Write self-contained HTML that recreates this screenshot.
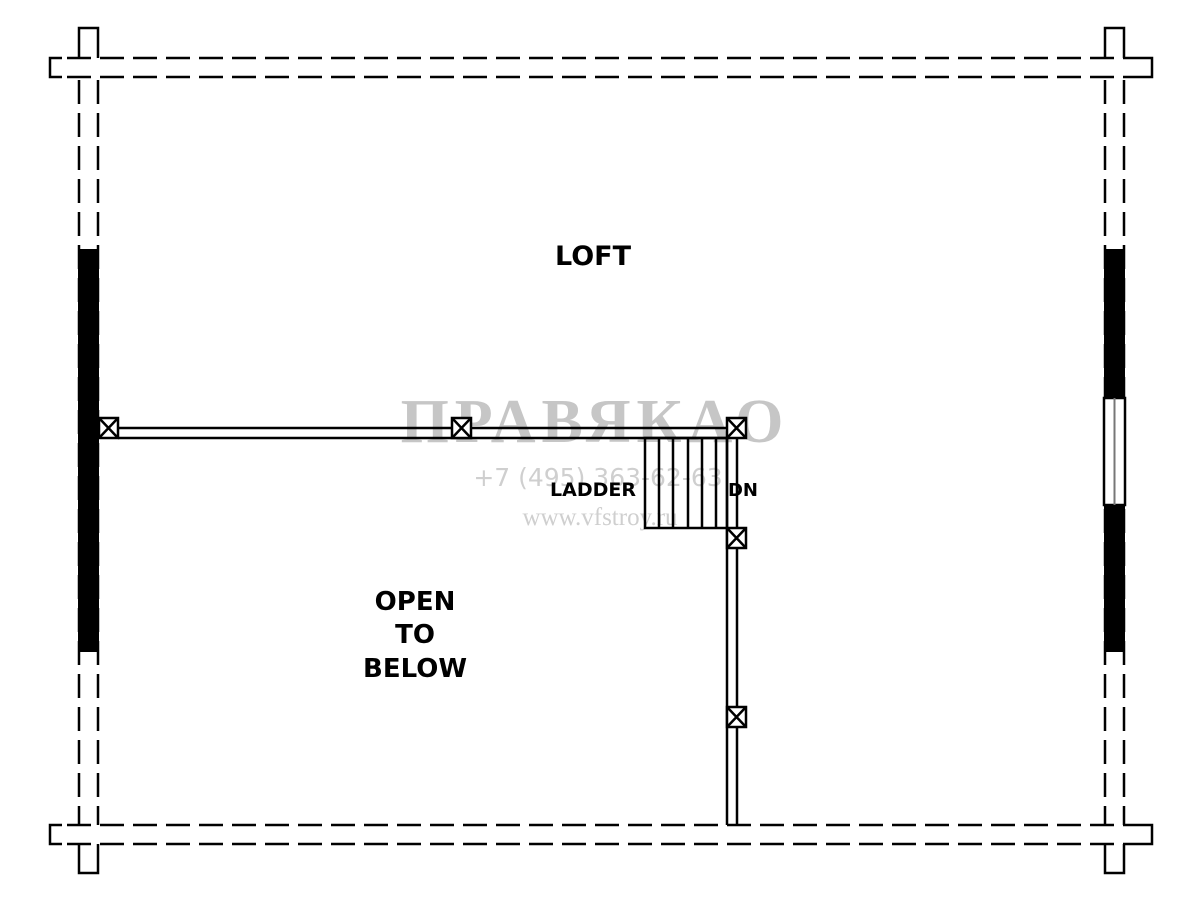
<!DOCTYPE html>
<html><head><meta charset="utf-8"><style>html,body{margin:0;padding:0;background:#fff}svg{display:block}</style></head>
<body>
<svg width="1200" height="919" viewBox="0 0 1200 919" xmlns="http://www.w3.org/2000/svg" font-family="'DejaVu Sans','Liberation Sans',sans-serif">
<rect width="1200" height="919" fill="#fff"/>
<!-- watermark -->
<g>
<text x="595" y="442" font-size="62" font-weight="bold" text-anchor="middle" letter-spacing="6" font-family="'Liberation Serif',serif" fill="#c6c6c6">ПРАВЯКАО</text>
<text x="598" y="486" font-size="25" text-anchor="middle" fill="#cfcfcf" font-family="'DejaVu Sans',sans-serif">+7 (495) 363-62-63</text>
<text x="600" y="525" font-size="25" text-anchor="middle" fill="#cfcfcf" font-family="'Liberation Serif',serif">www.vfstroy.ru</text>
</g>
<g stroke="#000" stroke-width="2.5" fill="none">
<line x1="62" y1="58" x2="1140" y2="58" stroke-dasharray="24 9" stroke-dashoffset="-5"/>
<line x1="62" y1="77" x2="1140" y2="77" stroke-dasharray="24 9" stroke-dashoffset="-5"/>
<polyline points="62,58 50,58 50,77 62,77"/>
<polyline points="1140,58 1152,58 1152,77 1140,77"/>
<line x1="62" y1="825" x2="1140" y2="825" stroke-dasharray="24 9" stroke-dashoffset="-5"/>
<line x1="62" y1="844" x2="1140" y2="844" stroke-dasharray="24 9" stroke-dashoffset="-5"/>
<polyline points="62,825 50,825 50,844 62,844"/>
<polyline points="1140,825 1152,825 1152,844 1140,844"/>
<polyline points="79,58 79,28 98,28 98,58"/>
<polyline points="1105,58 1105,28 1124,28 1124,58"/>
<polyline points="79,844 79,873 98,873 98,844"/>
<polyline points="1105,844 1105,873 1124,873 1124,844"/>
<line x1="79" y1="80" x2="79" y2="825" stroke-dasharray="24 9"/>
<line x1="98" y1="80" x2="98" y2="825" stroke-dasharray="24 9"/>
<line x1="1105" y1="80" x2="1105" y2="825" stroke-dasharray="24 9"/>
<line x1="1124" y1="80" x2="1124" y2="825" stroke-dasharray="24 9"/>
</g>
<rect x="78" y="249" width="21" height="403" fill="#000"/>
<rect x="1104" y="249" width="21" height="149" fill="#000"/>
<rect x="1104" y="505" width="21" height="147" fill="#000"/>
<rect x="1104" y="398" width="21" height="107" fill="#fff" stroke="#000" stroke-width="2.5"/>
<line x1="1114.5" y1="398" x2="1114.5" y2="505" stroke="#777" stroke-width="2"/>
<g stroke="#000" stroke-width="2.5" fill="none">
<line x1="118" y1="428" x2="727" y2="428"/>
<line x1="118" y1="438" x2="727" y2="438"/>
<line x1="727" y1="438" x2="727" y2="825"/>
<line x1="737" y1="438" x2="737" y2="825"/>
<rect x="645" y="438" width="82" height="90"/>
<line x1="659" y1="438" x2="659" y2="528"/>
<line x1="673" y1="438" x2="673" y2="528"/>
<line x1="688" y1="438" x2="688" y2="528"/>
<line x1="702" y1="438" x2="702" y2="528"/>
<line x1="716" y1="438" x2="716" y2="528"/>
</g>
<g stroke="#000" stroke-width="2.5" fill="#fff">
<g><rect x="99" y="418" width="19" height="20"/><path d="M99 418L118 438M118 418L99 438" fill="none"/></g>
<g><rect x="452" y="418" width="19" height="20"/><path d="M452 418L471 438M471 418L452 438" fill="none"/></g>
<g><rect x="727" y="418" width="19" height="20"/><path d="M727 418L746 438M746 418L727 438" fill="none"/></g>
<g><rect x="727" y="528" width="19" height="20"/><path d="M727 528L746 548M746 528L727 548" fill="none"/></g>
<g><rect x="727" y="707" width="19" height="20"/><path d="M727 707L746 727M746 707L727 727" fill="none"/></g>
</g>
<g fill="#000" font-weight="bold" text-anchor="middle">
<text x="593" y="265" font-size="27">LOFT</text>
<text x="415" y="610" font-size="26">OPEN</text>
<text x="415" y="643" font-size="26">TO</text>
<text x="415" y="677" font-size="26">BELOW</text>
<text x="593" y="496" font-size="19">LADDER</text>
<text x="743" y="496" font-size="18">DN</text>
</g>
</svg>
</body></html>
